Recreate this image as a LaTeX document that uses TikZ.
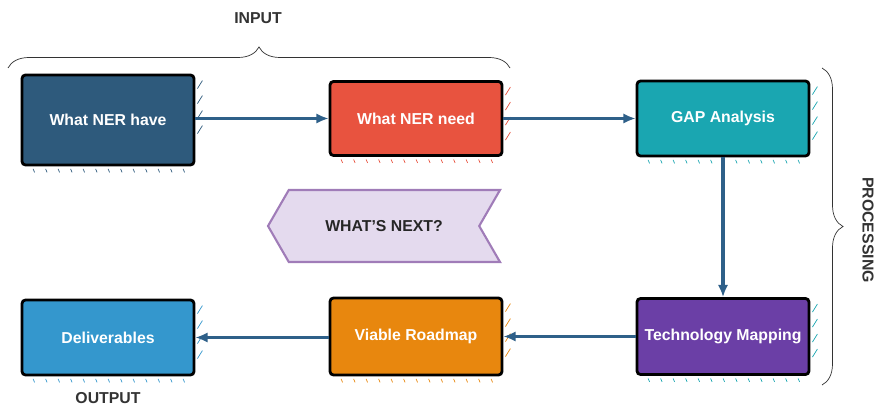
\documentclass[tikz,border=0pt]{standalone}
\usepackage{fontspec}
\setmainfont{Liberation Sans}
\usepackage{tikz}
\usetikzlibrary{positioning, shapes.symbols, arrows.meta, calc, decorations.pathreplacing}
\usepackage{xcolor}
\definecolor{nerblue}{HTML}{2E5A7C}
\definecolor{nerred}{HTML}{E8533F}
\definecolor{nerteal}{HTML}{1AA6B1}
\definecolor{nerpurple}{HTML}{6B3FA6}
\definecolor{nerorange}{HTML}{E8870E}
\definecolor{nersky}{HTML}{3497CD}
\definecolor{nerarrow}{HTML}{2E6089}
\definecolor{nerlav}{HTML}{E4DAEE}
\definecolor{nerlavdark}{HTML}{A07CB8}
\definecolor{nergray}{HTML}{333333}

\begin{document}
\begin{tikzpicture}[font=\fontsize{9}{11}\selectfont\bfseries,
    stage/.style={draw=black, line width=1.6pt, rounded corners=2pt, text=white,
                  minimum width=3.44cm, minimum height=1.5cm},
    flow/.style={-{Latex[length=7pt, width=6pt]}, line width=1.8pt, color=nerarrow},
    bracket/.style={decorate, decoration={brace, amplitude=0.42cm}, thin, color=nergray},
    tag/.style={text=nergray}]
    \useasboundingbox (0,0) rectangle (17.58,-8.12);

    % top row
    \node[stage, fill=nerblue, minimum height=1.8cm] (have) at (2.16,-2.40) {What NER have};
    \node[stage, fill=nerred, minimum height=1.48cm] (need) at (8.32,-2.37) {What NER need};
    \node[stage, fill=nerteal] (gap) at (14.46,-2.37) {GAP Analysis};

    % bottom row
    \node[stage, fill=nerpurple, minimum height=1.52cm] (tech) at (14.46,-6.73) {Technology Mapping};
    \node[stage, fill=nerorange, minimum height=1.54cm] (road) at (8.32,-6.73) {Viable Roadmap};
    \node[stage, fill=nersky] (deliv) at (2.16,-6.75) {Deliverables};

    % sketch hatching beside the boxes
    \foreach \n/\c in {have/nerblue, need/nerred, gap/nerteal, tech/nerteal, road/nerorange, deliv/nersky} {
      \foreach \i in {1,...,4}
        \draw[\c, thin] ($(\n.north east)+(0.04,-0.3*\i)$) -- ++(0.1,0.16);
      \foreach \i in {1,...,13}
        \draw[\c, thin] ($(\n.south west)+(0.25*\i,-0.05)$) -- ++(0.03,-0.07);
    }

    \node[signal, signal to=west, signal from=east, signal pointer angle=120,
          draw=nerlavdark, fill=nerlav, line width=1.2pt, text=black!85,
          minimum width=4.64cm, minimum height=1.44cm] (next) at (7.68,-4.52) {WHAT'S NEXT?};

    \draw[flow] (have.east |- need) -- (need);
    \draw[flow] (need) -- (gap);
    \draw[flow] (gap) -- (tech);
    \draw[flow] (tech) -- (road);
    \draw[flow] (road.west |- deliv) -- (deliv);

    % groups
    \coordinate (inL) at (0.16,-1.36);
    \coordinate (inR) at (10.20,-1.36);
    \draw[bracket] (inL) -- (inR);
    \node[tag] (input) at (5.16,-0.36) {INPUT};

    \coordinate (prT) at (16.44,-1.36);
    \coordinate (prB) at (16.44,-7.70);
    \draw[bracket] (prT) -- (prB);
    \node[tag, rotate=-90] (proc) at (17.36,-4.60) {PROCESSING};

    \node[tag] (output) at (2.16,-7.96) {OUTPUT};
\end{tikzpicture}
\end{document}
